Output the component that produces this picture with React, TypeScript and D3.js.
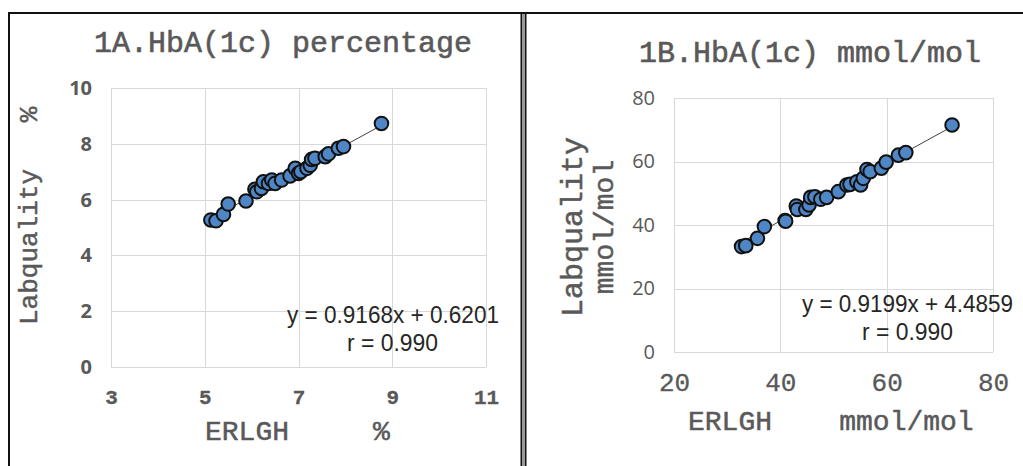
import React, {useRef, useEffect} from 'react'
import {select, scaleLinear, axisLeft, axisBottom} from 'd3'

// 1A: HbA1c in %
const pctErlgh = [5.13, 5.24, 5.40, 5.50, 5.88, 6.07, 6.11, 6.21, 6.25, 6.36, 6.43, 6.50, 6.64, 6.82, 6.93, 7.00, 7.05, 7.18, 7.25, 7.28, 7.35, 7.57, 7.64, 7.85, 7.96, 8.77]
const pctLabq = [5.27, 5.24, 5.47, 5.84, 5.95, 6.37, 6.28, 6.40, 6.64, 6.58, 6.70, 6.58, 6.70, 6.85, 7.12, 6.94, 7.00, 7.12, 7.23, 7.44, 7.48, 7.54, 7.64, 7.84, 7.90, 8.73]
const pctXTicks = [3, 5, 7, 9, 11]
const pctYTicks = [0, 2, 4, 6, 8, 10]
const pctFit = [0.9168, 0.6201]

// 1B: HbA1c in mmol/mol
const mmolErlgh = [32.7, 33.5, 35.7, 37.0, 40.9, 41.0, 43.0, 43.2, 44.8, 45.4, 45.7, 46.5, 47.6, 48.7, 50.9, 52.5, 53.1, 54.4, 55.1, 55.6, 56.3, 56.9, 59.0, 59.9, 62.2, 63.6, 72.3]
const mmolLabq = [33.2, 33.5, 35.8, 39.5, 41.4, 41.2, 46.0, 44.9, 44.9, 46.3, 48.7, 48.9, 48.1, 48.7, 50.5, 52.6, 52.8, 53.6, 52.6, 54.7, 57.5, 56.8, 57.9, 59.8, 62.0, 62.8, 71.5]
const mmolXTicks = [20, 40, 60, 80]
const mmolYTicks = [0, 20, 40, 60, 80]
const mmolFit = [0.9199, 4.4859]

const MONO = '"Liberation Mono", "DejaVu Sans Mono", monospace'
const SANS = '"Open Sans", "Liberation Sans", sans-serif'
const GRAY = '#595959'

const App = () => {
  const svgRef = useRef<SVGSVGElement>(null)

  useEffect(() => {
    if (!svgRef.current) return
    const svg = select(svgRef.current)
    svg.selectAll('*').remove()

    // panel frames
    const frame = svg.append('g').attr('fill', 'none').attr('stroke', '#111').attr('stroke-width', 2)
    frame.append('line').attr('x1', 9).attr('x2', 1023).attr('y1', 13).attr('y2', 13)
    frame.append('line').attr('x1', 9).attr('x2', 9).attr('y1', 12).attr('y2', 466)
    svg.append('rect').attr('x', 522).attr('y', 14).attr('width', 3).attr('height', 452).attr('fill', '#9a9a9a')
    frame.append('line').attr('x1', 521.5).attr('x2', 521.5).attr('y1', 12).attr('y2', 466)
    frame.append('line').attr('x1', 525.5).attr('x2', 525.5).attr('y1', 12).attr('y2', 466)

    const drawPanel = (opt: any) => {
      const g = svg.append('g')
      const x = scaleLinear().domain(opt.xDomain).range([opt.left, opt.right])
      const y = scaleLinear().domain(opt.yDomain).range([opt.bottom, opt.top])

      // grid
      g.append('g').selectAll('line').data(opt.xTicks).join('line')
        .attr('x1', (d: number) => Math.round(x(d)) + 0.5).attr('x2', (d: number) => Math.round(x(d)) + 0.5)
        .attr('y1', opt.top).attr('y2', opt.bottom)
        .attr('stroke', '#d9d9d9')
      g.append('g').selectAll('line').data(opt.yTicks).join('line')
        .attr('y1', (d: number) => Math.round(y(d)) + 0.5).attr('y2', (d: number) => Math.round(y(d)) + 0.5)
        .attr('x1', opt.left).attr('x2', opt.right)
        .attr('stroke', '#d9d9d9')

      // tick labels
      const ya = g.append('g').attr('transform', `translate(${opt.left},0)`)
        .call(axisLeft(y).tickValues(opt.yTicks).tickSize(0).tickPadding(opt.yPad))
      ya.select('.domain').remove()
      ya.selectAll('text').attr('font-family', opt.yFont).attr('font-size', opt.yFontSize)
        .attr('font-weight', opt.yWeight).attr('fill', GRAY)

      const xa = g.append('g').attr('transform', `translate(0,${opt.bottom})`)
        .call(axisBottom(x).tickValues(opt.xTicks).tickSize(0).tickPadding(opt.xPad))
      xa.select('.domain').remove()
      xa.selectAll('text').attr('font-family', MONO).attr('font-size', opt.xFontSize)
        .attr('font-weight', opt.xWeight).attr('fill', GRAY)
        .attr('stroke', GRAY).attr('stroke-width', opt.xStroke)

      // trendline
      const xs = opt.xs as number[]
      const x0 = Math.min(...xs), x1 = Math.max(...xs)
      const [m, b] = opt.fit
      g.append('line')
        .attr('x1', x(x0)).attr('y1', y(m * x0 + b))
        .attr('x2', x(x1)).attr('y2', y(m * x1 + b))
        .attr('stroke', '#404040').attr('stroke-width', 1)

      // points
      g.append('g').selectAll('circle').data(xs).join('circle')
        .attr('cx', (d: number) => x(d))
        .attr('cy', (_d: number, i: number) => y(opt.ys[i]))
        .attr('r', 6.8)
        .attr('fill', '#4f86c6')
        .attr('stroke', '#111')
        .attr('stroke-width', 2)

      // fit annotation
      const txt = (s: string, tx: number, ty: number, len: number) =>
        g.append('text').attr('x', tx).attr('y', ty).text(s)
          .attr('font-family', '"Liberation Sans", Arial, sans-serif').attr('font-size', 23)
          .attr('fill', '#262626')
          .attr('textLength', len).attr('lengthAdjust', 'spacingAndGlyphs')
      txt(opt.eq, opt.eqX, opt.eqY, opt.eqLen)
      txt('r = 0.990', opt.rX, opt.rY, 91)

      // title
      g.append('text').attr('x', opt.titleX).attr('y', opt.titleY)
        .attr('text-anchor', 'middle').attr('font-family', MONO).attr('font-size', 30)
        .attr('fill', GRAY).attr('stroke', GRAY).attr('stroke-width', 0.6)
        .text(opt.title)
    }

    drawPanel({
      xDomain: [3, 11], yDomain: [0, 10], left: 111, right: 486, top: 88, bottom: 367,
      xTicks: pctXTicks, yTicks: pctYTicks,
      yFont: SANS, yFontSize: 20, yWeight: 'bold', yPad: 19,
      xFontSize: 21, xWeight: 'bold', xStroke: 0.3, xPad: 22,
      xs: pctErlgh, ys: pctLabq, fit: pctFit,
      eq: 'y = 0.9168x + 0.6201', eqX: 287, eqY: 323, eqLen: 212, rX: 347, rY: 351,
      title: '1A.HbA(1c) percentage', titleX: 283, titleY: 52,
    })

    drawPanel({
      xDomain: [20, 80], yDomain: [0, 80], left: 674, right: 993, top: 98, bottom: 352,
      xTicks: mmolXTicks, yTicks: mmolYTicks,
      yFont: SANS, yFontSize: 20, yWeight: 'normal', yPad: 19,
      xFontSize: 26, xWeight: 'normal', xStroke: 0.3, xPad: 21,
      xs: mmolErlgh, ys: mmolLabq, fit: mmolFit,
      eq: 'y = 0.9199x + 4.4859', eqX: 802, eqY: 312, eqLen: 211, rX: 862, rY: 340,
      title: '1B.HbA(1c) mmol/mol', titleX: 810, titleY: 62,
    })

    // axis titles
    const label = (s: string, tx: number, ty: number, size: number, rotate: boolean, anchor = 'start') => {
      svg.append('text')
        .attr('transform', `translate(${tx},${ty})` + (rotate ? ' rotate(-90)' : ''))
        .attr('text-anchor', anchor)
        .attr('font-family', MONO).attr('font-size', size).attr('fill', GRAY)
        .attr('stroke', GRAY).attr('stroke-width', 0.5)
        .style('white-space', 'pre')
        .text(s)
    }
    label('Labquality   %', 37, 325, 26, true)
    label('ERLGH     %', 205, 440, 28, false)
    label('Labquality', 582, 227, 30, true, 'middle')
    label('mmol/mol', 613, 227, 28, true, 'middle')
    label('ERLGH    mmol/mol', 688, 430, 28, false)
  }, [])

  return (
    <div style={{position: 'absolute', left: 0, top: 0}}>
      <svg ref={svgRef} width={1023} height={466} style={{display: 'block', background: '#fff'}} />
    </div>
  )
}

export default App
